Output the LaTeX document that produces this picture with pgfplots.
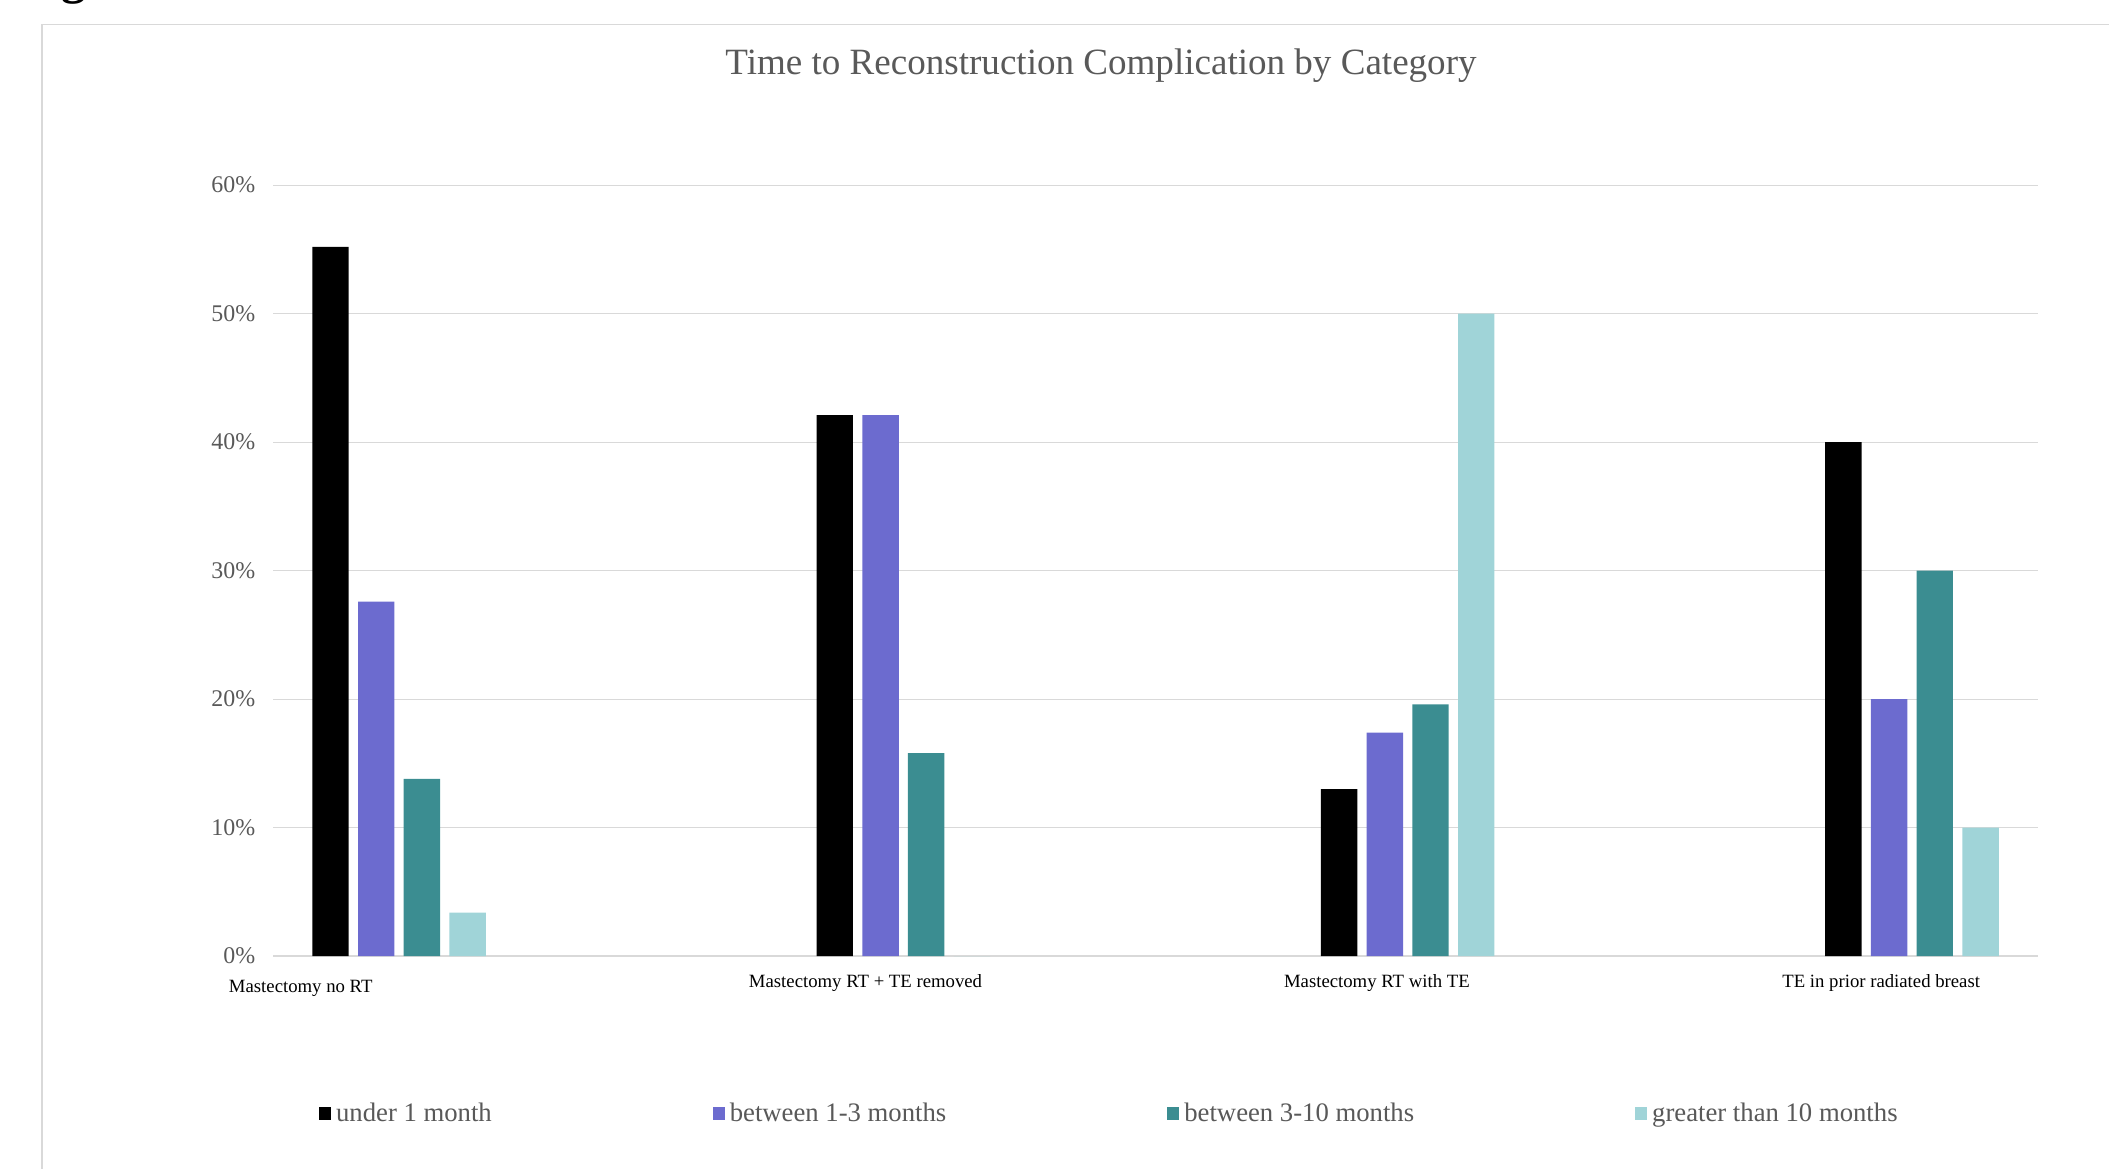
\documentclass[border=0pt]{standalone}
\usepackage{fontspec}
\setmainfont{Liberation Serif}
\usepackage{pgfplots}
\pgfplotsset{compat=1.18}
\definecolor{c1}{RGB}{0,0,0}
\definecolor{c2}{RGB}{108,107,207}
\definecolor{c3}{RGB}{59,141,145}
\definecolor{c4}{RGB}{160,212,216}
\definecolor{gridc}{RGB}{217,217,217}
\definecolor{txt}{RGB}{89,89,89}
\begin{document}
\begin{tikzpicture}
\path[use as bounding box] (0,0) rectangle (1054.5bp,584.5bp);
\clip (0,0) rectangle (1054.5bp,584.5bp);
\node[anchor=base west, inner sep=0pt, font=\fontsize{24.5bp}{28bp}\selectfont\bfseries] at (30.5bp,587.6bp) {\llap{Fi}gure};
\draw[gridc, line width=0.8bp] (21bp,-10bp) -- (21bp,572.25bp) -- (1070bp,572.25bp);
\node[anchor=base, text=txt, font=\fontsize{18.6}{22}\selectfont, inner sep=0pt] at (550.5bp,547.3bp) {Time to Reconstruction Complication by Category};
\begin{axis}[
  at={(136.5bp,106.4bp)}, anchor=south west,
  scale only axis, width=882.5bp, height=385.5bp,
  xmin=-0.25, xmax=3.25, ymin=0, ymax=60,
  axis line style={draw=none},
  major tick length=0pt, tick style={draw=none},
  ytick={0,10,...,60},
  ymajorgrids, grid style={gridc, line width=0.7bp},
  /pgf/number format/assume math mode=true,
  yticklabel={\pgfmathprintnumber{\tick}\%},
  yticklabel style={text=txt, font=\fontsize{12}{14}\selectfont, anchor=east, inner sep=0pt},
  yticklabel shift=8.7bp,
  xtick={0.925,1.939,2.939},
  xticklabels={Mastectomy RT + TE removed, Mastectomy RT with TE, TE in prior radiated breast},
  extra x ticks={-0.195},
  extra x tick labels={Mastectomy no RT},
  extra x tick style={xticklabel shift=18.1bp},
  xticklabel style={anchor=base, inner sep=0pt, font=\fontsize{9.4}{11}\selectfont, text=black},
  xticklabel shift=15.5bp,
  legend columns=4,
  legend image code/.code={\fill[#1] (0bp,-3.25bp) rectangle (6bp,3.25bp);},
  legend style={at={(0.0259,-0.2039)}, anchor=west, draw=none, inner sep=0pt,
    nodes={inner sep=0pt, text=txt, font=\fontsize{13.4}{15}\selectfont},
    /tikz/every odd column/.append style={column sep=2.5bp},
    /tikz/every even column/.append style={column sep=110.5bp}},
]
\addplot[ybar, bar width=18.2bp, bar shift=-34.3bp, fill=c1, draw=none] coordinates {(0,55.2) (1,42.1) (2,13.0) (3,40.0)};
\addlegendentry{under 1 month}
\addplot[ybar, bar width=18.2bp, bar shift=-11.4bp, fill=c2, draw=none] coordinates {(0,27.6) (1,42.1) (2,17.4) (3,20.0)};
\addlegendentry{between 1-3 months}
\addplot[ybar, bar width=18.2bp, bar shift=11.4bp, fill=c3, draw=none] coordinates {(0,13.8) (1,15.8) (2,19.6) (3,30.0)};
\addlegendentry{between 3-10 months}
\addplot[ybar, bar width=18.2bp, bar shift=34.3bp, fill=c4, draw=none] coordinates {(0,3.4) (1,0) (2,50.0) (3,10.0)};
\addlegendentry{greater than 10 months}
\end{axis}
\end{tikzpicture}
\end{document}
